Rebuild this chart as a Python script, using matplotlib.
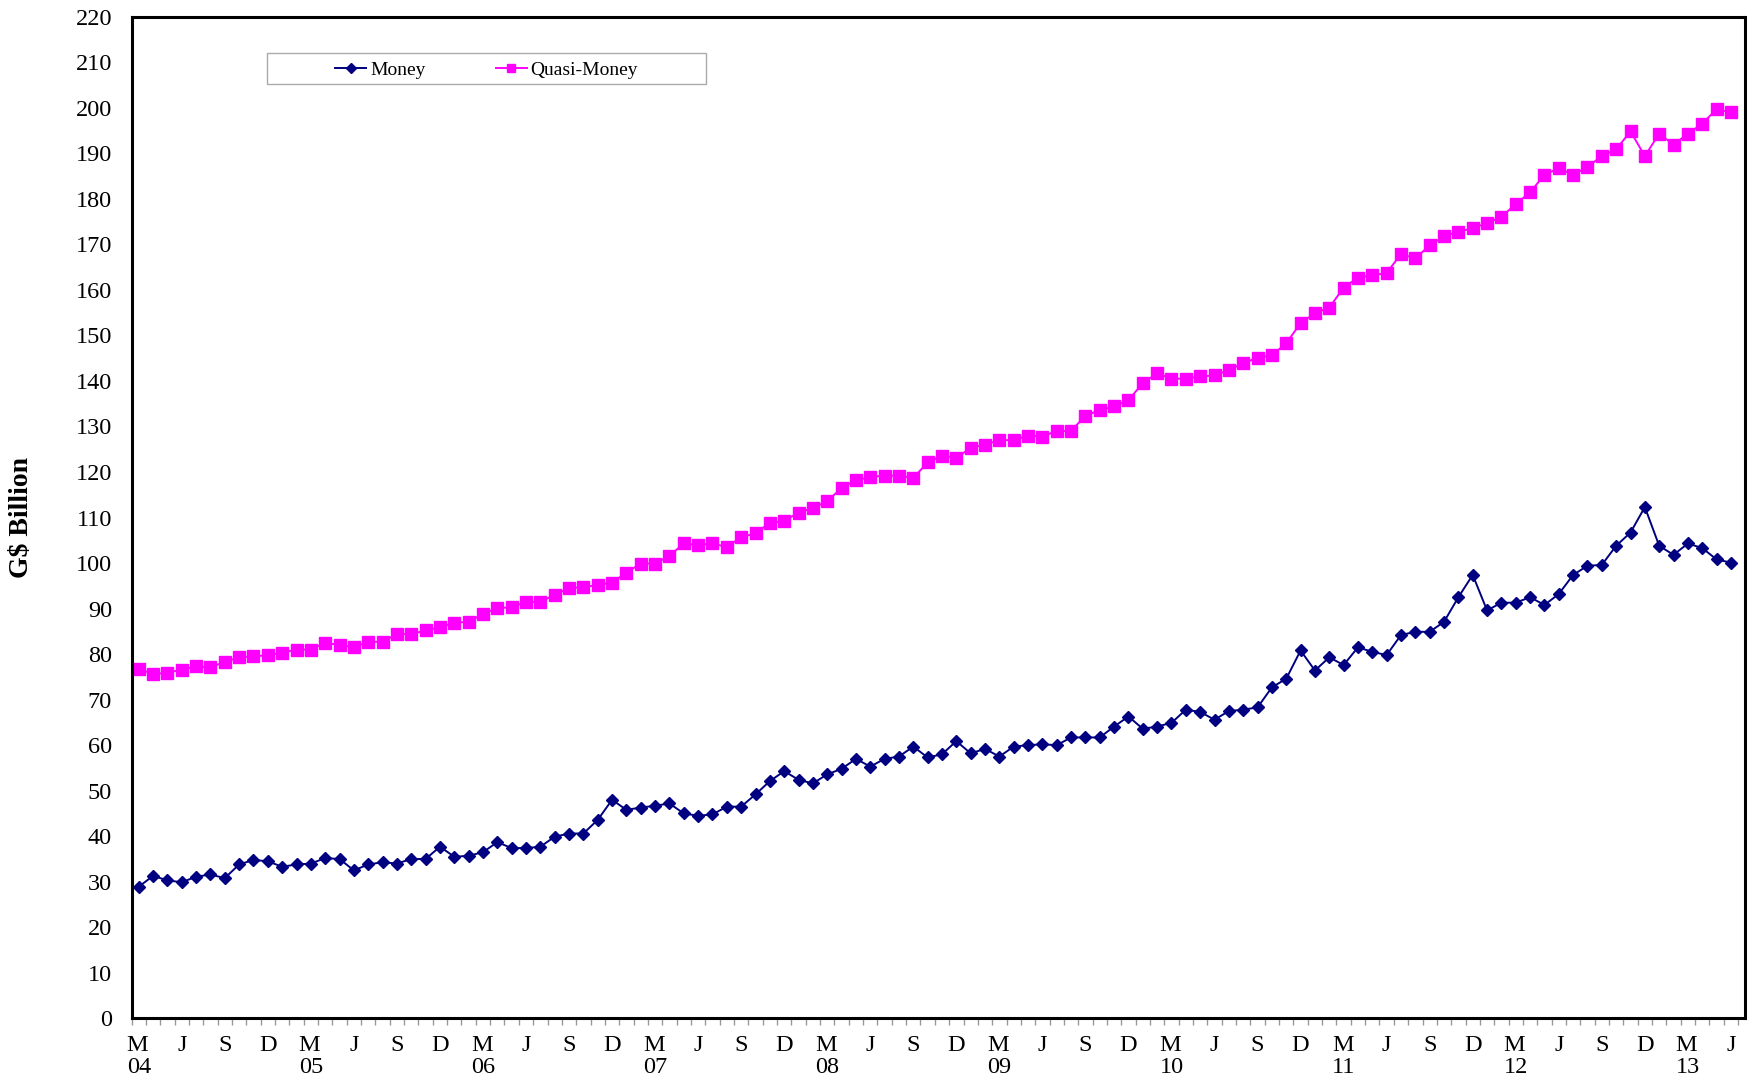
import matplotlib.pyplot as plt
from matplotlib.patches import Rectangle
from matplotlib.ticker import FixedLocator, MultipleLocator
import numpy as np

plt.rcParams['font.family'] = ['Liberation Serif', 'DejaVu Serif']

# monthly data, Mar 2004 - Jun 2013 (G$ billion)
money = [28.9, 31.3, 30.3, 29.9, 31.1, 31.6, 30.8, 33.8, 34.8, 34.5,
         33.3, 33.8, 34.0, 35.2, 35.0, 32.5, 33.8, 34.3, 34.0, 35.0, 35.0, 37.7,
         35.5, 35.7, 36.5, 38.7, 37.4, 37.4, 37.7, 39.9, 40.6, 40.6, 43.6, 48.0,
         45.8, 46.3, 46.7, 47.2, 45.0, 44.5, 44.8, 46.5, 46.5, 49.2, 52.1, 54.3,
         52.4, 51.6, 53.6, 54.8, 57.0, 55.3, 57.0, 57.5, 59.7, 57.3, 58.0, 60.9,
         58.2, 59.2, 57.5, 59.7, 60.0, 60.2, 60.0, 61.7, 61.7, 61.7, 64.1, 66.3,
         63.6, 64.1, 64.9, 67.8, 67.3, 65.6, 67.5, 67.8, 68.3, 72.7, 74.6, 80.8,
         76.4, 79.3, 77.6, 81.5, 80.5, 79.8, 84.2, 84.9, 84.9, 87.1, 92.5, 97.4,
         89.6, 91.3, 91.3, 92.5, 90.8, 93.2, 97.4, 99.4, 99.6, 103.8, 106.7, 112.3,
         103.8, 101.8, 104.3, 103.3, 100.8, 100.1]

quasi_money = [76.8, 75.6, 75.9, 76.6, 77.3, 77.1, 78.3, 79.3, 79.5, 79.8,
               80.3, 81.0, 81.0, 82.5, 82.0, 81.5, 82.7, 82.7, 84.4, 84.4, 85.2, 85.9,
               86.9, 87.1, 88.8, 90.1, 90.3, 91.5, 91.5, 93.0, 94.5, 94.7, 95.2, 95.7,
               97.9, 99.9, 99.9, 101.6, 104.3, 104.0, 104.3, 103.5, 105.7, 106.5, 108.9, 109.2,
               111.1, 112.1, 113.6, 116.5, 118.2, 118.9, 119.2, 119.2, 118.7, 122.1, 123.6, 123.1,
               125.3, 126.0, 127.0, 127.0, 128.0, 127.8, 129.0, 129.0, 132.4, 133.6, 134.4, 135.8,
               139.5, 141.7, 140.5, 140.5, 141.0, 141.2, 142.4, 143.9, 145.1, 145.6, 148.3, 152.7,
               154.9, 156.1, 160.5, 162.7, 163.2, 163.7, 167.9, 166.9, 169.8, 171.8, 172.8, 173.5,
               174.7, 176.0, 178.9, 181.4, 185.3, 186.7, 185.3, 187.0, 189.4, 190.9, 194.8, 189.4,
               194.3, 191.9, 194.3, 196.5, 199.7, 199.0]

months = ['J', 'F', 'M', 'A', 'M', 'J', 'J', 'A', 'S', 'O', 'N', 'D']
labels = []
for i in range(len(money)):
    m = (i + 2) % 12
    yr = 4 + (i + 2) // 12
    if m == 2:
        labels.append('%s\n%02d' % (months[m], yr))
    else:
        labels.append(months[m])

x = np.arange(len(money))

fig = plt.figure(figsize=(17.47, 10.79), dpi=100)
ax = fig.add_axes([0.0753, 0.0562, 0.9237, 0.9283])

ax.plot(x, money, color='#000080', marker='D', markersize=6, linewidth=1.4, label='Money')
ax.plot(x, quasi_money, color='#FF00FF', marker='s', markersize=8, linewidth=1.4, label='Quasi-Money')

ax.set_xlim(-0.5, len(money))
ax.set_ylim(0, 220)
ax.yaxis.set_major_locator(MultipleLocator(10))
ax.tick_params(axis='y', length=0, labelsize=17.5, pad=14)

major = x[::3]
ax.xaxis.set_major_locator(FixedLocator(major))
ax.set_xticklabels([labels[i] for i in major], ha='center', va='top', linespacing=1.05)
ax.xaxis.set_minor_locator(FixedLocator(np.arange(len(money) + 1) - 0.5))
ax.tick_params(axis='x', which='major', length=0, labelsize=17.5, pad=12)
ax.tick_params(axis='x', which='minor', length=5, width=1, color='#999999', direction='out')
for lab in ax.get_xticklabels():
    lab.set_multialignment('left')

for s in ax.spines.values():
    s.set_linewidth(2.2)
    s.set_color('black')

ax.set_ylabel('G$ Billion', fontsize=20, fontweight='bold', labelpad=30)

# legend box
ax.add_patch(Rectangle((0.0841, 0.9333), 0.2718, 0.030, transform=ax.transAxes,
                       facecolor='white', edgecolor='#AAAAAA', linewidth=1, zorder=5))
leg = ax.legend(loc='center', bbox_to_anchor=(0.22, 0.9470), ncol=2, frameon=False,
                fontsize=14, handlelength=1.6, handletextpad=0.2, columnspacing=3.6,
                markerscale=0.8, borderpad=0)
leg.set_zorder(6)

fig.savefig('out.png', dpi=100)
